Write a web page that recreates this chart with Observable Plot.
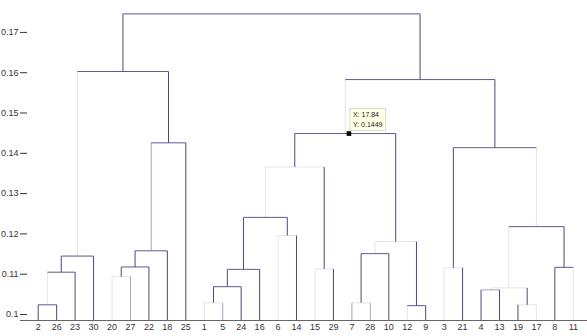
<!DOCTYPE html>
<html><head><meta charset="utf-8">
<script src="https://cdn.jsdelivr.net/npm/d3@7"></script>
<script src="https://cdn.jsdelivr.net/npm/@observablehq/plot@0.6"></script>
<style>html,body{margin:0;padding:0;background:#fff}</style>
</head><body><div id="chart"></div>
<script>
// Leaf labels in display order
const leafOrder = [2,26,23,30,20,27,22,18,25,1,5,24,16,6,14,15,29,7,28,10,12,9,3,21,4,13,19,17,8,11];
// Linkage (MATLAB style: leaves 1..30, merge k creates node 30+k)
const mergeLeft   = [12, 2,19, 1, 7, 4,36,34,20,32,38,15, 3, 8,39,40,35,45,47, 6,37,41,52,43,48,53,56,46,58];
const mergeRight  = [ 9,26,17, 5,28,13,33,24,27,23,16,29,21,11,22,30,10,18,31,14,44,50,42,51,25,49,54,55,57];
const mergeHeight = [0.1022,0.1024,0.1024,0.1029,0.1029,0.1061,0.1066,0.1069,0.1094,0.1105,0.1112,0.1113,0.1116,0.1117,0.1118,0.1145,0.1151,0.1158,0.1181,0.1196,0.1218,0.1241,0.1366,0.1414,0.1426,0.1449,0.1583,0.1603,0.1746];
const yTicks = [0.10,0.11,0.12,0.13,0.14,0.15,0.16,0.17];
const tipX = 17.84, tipY = 0.1449;
const tipLabel = "X: 17.84\nY: 0.1449";

// Rendering style (line legs that appear faint / medium in the reference)
const faintLegs = new Set(["28L","10L","9H","9L","4H","4L","20H","20L","12H","12L","23H","23L","5H","1L","19H","19L","27L","13H","13L","3H","3R","7H","7L","14R","21L","24R"]);
const mediumLegs = new Set(["9R","25L","4R","5L","5R","6H"]);
const colDark = "#4a4a7c", colDarkH = "#5c5c8c", colMed = "#a4a4c0", colFaint = "#e4e4ee";

const yMin = 0.09851, yMax = 0.17792;
const nLeaves = leafOrder.length;

// layout
const nodeX = new Map(), nodeH = new Map();
leafOrder.forEach((lab, i) => { nodeX.set(lab, i + 1); nodeH.set(lab, yMin); });
const segments = [];
mergeLeft.forEach((a, k) => {
  const b = mergeRight[k], h = mergeHeight[k], id = nLeaves + k + 1, m = k + 1;
  let [l, r] = nodeX.get(a) <= nodeX.get(b) ? [a, b] : [b, a];
  const xl = nodeX.get(l), xr = nodeX.get(r);
  const tone = leg => faintLegs.has(m + leg) ? colFaint : mediumLegs.has(m + leg) ? colMed : (leg === "H" ? colDarkH : colDark);
  segments.push({x1: xl, y1: nodeH.get(l), x2: xl, y2: h, color: tone("L")});
  segments.push({x1: xl, y1: h, x2: xr, y2: h, color: tone("H")});
  segments.push({x1: xr, y1: nodeH.get(r), x2: xr, y2: h, color: tone("R")});
  nodeX.set(id, (xl + xr) / 2); nodeH.set(id, h);
});
const rank = c => c === colFaint ? 0 : c === colMed ? 1 : 2;
segments.sort((a, b) => rank(a.color) - rank(b.color));

const leafPos = leafOrder.map((d, i) => i + 1);

const chart = Plot.plot({
  width: 587, height: 336,
  marginLeft: 20, marginRight: 0, marginTop: 0, marginBottom: 16,
  style: {fontFamily: "'Liberation Sans', Arial, sans-serif", fontSize: "9px", color: "#333", background: "#fff"},
  x: {domain: [1, 30], range: [37.7, 572.8]},
  y: {domain: [yMin, yMax]},
  color: {type: "identity"},
  marks: [
    Plot.link(segments, {x1: "x1", y1: "y1", x2: "x2", y2: "y2", stroke: "color", strokeWidth: 1}),
    Plot.ruleY([yMin], {stroke: "#666"}),
    Plot.tickY(yTicks, {y: d => d, insetRight: 560, stroke: "#333"}),
    Plot.axisX({ticks: leafPos, tickFormat: i => String(leafOrder[i - 1]), tickSize: 0, tickPadding: 3, fill: "#333"}),
    Plot.axisY({ticks: yTicks, tickFormat: d => String(+d.toFixed(2)), tickSize: 0, tickPadding: 2, fill: "#333"}),
    Plot.dot([{x: tipX, y: tipY}], {x: "x", y: "y", symbol: "square", fill: "black", r: 2.6}),
    Plot.text([{x: tipX, y: tipY, label: tipLabel}], {x: "x", y: "y", text: "label", textAnchor: "start", lineAnchor: "bottom", dx: 4, dy: -7, fontSize: 7, fill: "#222", lineHeight: 1.3})
  ]
});
document.getElementById("chart").appendChild(chart);

// tooltip box behind the datatip text
d3.select(chart).selectAll("text").filter(function() { return this.textContent.startsWith("X: 17.84"); }).each(function() {
  const bb = this.getBBox();
  const rect = document.createElementNS("http://www.w3.org/2000/svg", "rect");
  rect.setAttribute("x", bb.x - 3); rect.setAttribute("y", bb.y - 3);
  rect.setAttribute("width", bb.width + 6); rect.setAttribute("height", bb.height + 6);
  rect.setAttribute("fill", "#ffffe6"); rect.setAttribute("stroke", "#d8d8c8");
  const tr = this.getAttribute("transform"); if (tr) rect.setAttribute("transform", tr);
  this.parentNode.insertBefore(rect, this);
});
</script>
</body></html>
